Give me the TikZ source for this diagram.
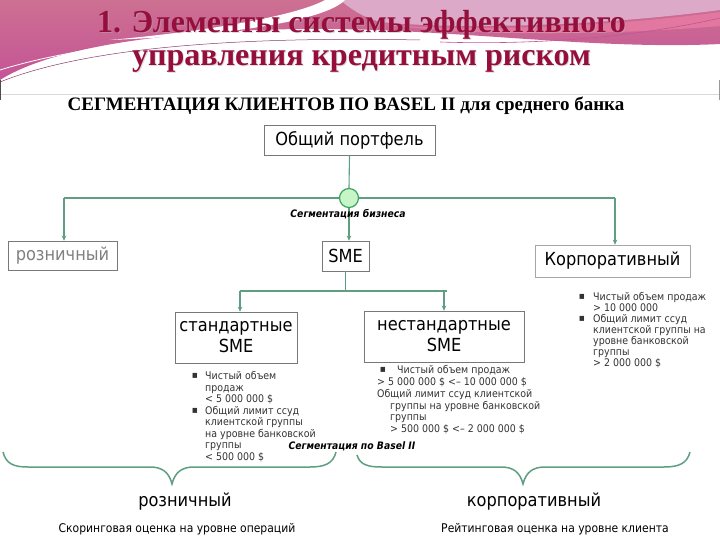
\documentclass[tikz,border=0pt]{standalone}
\usepackage{fontspec}
\setmainfont{Liberation Serif}
\newfontfamily\tf[FakeStretch=0.9]{DejaVu Sans}
\usetikzlibrary{arrows.meta}
\definecolor{titlec}{RGB}{150,15,60}
\definecolor{lnk}{RGB}{95,158,128}
\definecolor{boxc}{RGB}{120,120,120}
\definecolor{pinkA}{RGB}{214,130,162}
\definecolor{pinkT}{RGB}{205,112,146}
\definecolor{pinkL}{RGB}{196,84,150}
\definecolor{mauve}{RGB}{220,170,200}
\definecolor{pinkD}{RGB}{226,120,160}
\definecolor{circf}{RGB}{200,245,200}
\definecolor{circd}{RGB}{60,165,95}
\definecolor{graytxt}{RGB}{128,128,128}
\tikzset{
  boxn/.style={draw=boxc, line width=0.6pt, inner sep=0pt, align=center, font=\tf\fontsize{18}{21}\selectfont},
  lnkline/.style={draw=lnk, line width=1.1pt},
  lnkarr/.style={draw=lnk, line width=1.1pt, -{Stealth[length=5pt,width=4.5pt]}},
  small/.style={inner sep=0pt, anchor=base west, font=\tf\fontsize{10.5}{11}\selectfont, text=black!80},
  bul/.style={inner sep=0pt, anchor=base, font=\tf\fontsize{10}{10}\selectfont, text=black!80},
  segl/.style={inner sep=0pt, font=\tf\bfseries\itshape\fontsize{10.3}{11}\selectfont},
  bracel/.style={draw=lnk, line width=1.5pt},
  ttl/.style={inner sep=0pt, anchor=base, font=\bfseries\fontsize{32}{34}\selectfont}
}
\begin{document}
\begin{tikzpicture}[x=1pt,y=-1pt]
\useasboundingbox (0,0) rectangle (720,540);
\fill[white] (0,0) rectangle (720,540);
% header
\shade[top color=pinkT, bottom color=pinkL] (0,0) -- (720,0) -- (720,44) .. controls (600,50) and (460,30) .. (330,29) .. controls (200,28) and (60,42) .. (0,80) -- cycle;
\fill[mauve] (340,0) -- (720,0) -- (720,10) .. controls (600,26) and (460,30) .. (380,22) .. controls (360,16) and (350,8) .. (340,0) -- cycle;
\fill[pinkD] (720,12) .. controls (600,28) and (460,32) .. (380,24) .. controls (470,36) and (600,36) .. (720,26) -- cycle;
\fill[white] (110,40) .. controls (220,30) and (300,14) .. (325,0) -- (345,0) .. controls (330,16) and (260,34) .. (110,40) -- cycle;
\draw[pinkL!70!black, line width=0.5pt] (0,82) .. controls (80,50) and (220,36) .. (420,40);
\draw[white, line width=0.8pt] (0,70) .. controls (90,42) and (220,32) .. (380,34);
\draw[pinkL, line width=0.6pt] (440,42) .. controls (560,46) and (660,32) .. (720,18);
\draw[black!15, line width=0.8pt] (0,94) -- (720,94);
\draw[black!70, line width=1pt] (0.5,80) -- (0.5,100);
\draw[black!40, line width=1pt] (719.5,80) -- (719.5,100);
% title
\node[ttl, text=black!30, opacity=0.45] (t1s) at (362.5,33.5) {1. Элементы системы эффективного};
\node[ttl, text=titlec] (t1) at (361.5,32.5) {1. Элементы системы эффективного};
\node[ttl, text=black!30, opacity=0.45] (t2s) at (362.5,66.5) {управления кредитным риском};
\node[ttl, text=titlec] (t2) at (361.5,65.5) {управления кредитным риском};
\node[inner sep=0pt, anchor=base, font=\bfseries\fontsize{19}{20}\selectfont] (sub) at (346,111) {СЕГМЕНТАЦИЯ КЛИЕНТОВ ПО BASEL II для среднего банка};
% boxes
\node[boxn, minimum width=171pt, minimum height=30pt] (p) at (349.5,140) {Общий портфель};
\node[boxn, minimum width=109pt, minimum height=29pt, text=graytxt] (r) at (62.5,255.5) {розничный};
\node[boxn, minimum width=47pt, minimum height=30pt] (s) at (345.5,256) {SME};
\node[boxn, draw=black!35, minimum width=155pt, minimum height=32pt] (k) at (612.5,261) {Корпоративный};
\node[boxn, minimum width=122pt, minimum height=51pt] (st) at (236,337.5) {стандартные\\SME};
\node[boxn, minimum width=160pt, minimum height=51pt] (ns) at (444,336.5) {нестандартные\\SME};
\node[circle, draw=circd, fill=circf, line width=1.2pt, minimum size=19pt, inner sep=0pt] (c) at (349,198) {};
% connectors
\coordinate (jl) at (64,198);
\coordinate (jr) at (615,198);
\draw[lnkline] (p.south) -- (c.north);
\draw[lnkline] (c.west) -- (jl);
\draw[lnkline] (c.east) -- (jr);
\draw[lnkarr] (jl) -- (jl |- r.north);
\draw[lnkarr] (jr) -- (jr |- k.north);
\draw[lnkarr] (c.south) -- (c.south |- s.north);
\coordinate (bl) at (240,291);
\coordinate (bn) at (444,291);
\coordinate (br) at (447,291);
\draw[lnkline] (s.south) -- (s.south |- bl);
\draw[lnkline] (bl) -- (br);
\draw[lnkarr] (bl) -- (bl |- st.north);
\draw[lnkarr] (bn) -- (ns.north);
\node[segl] (seg1) at (348,214) {Сегментация бизнеса};
% standard list
\node[bul] (b1) at (195,378) {▪};
\node[bul] (b2) at (195,413) {▪};
\node[small] (sa1) at (205,379) {Чистый объем};
\node[small] (sa2) at (205,391) {продаж};
\node[small] (sa3) at (205,402) {< 5 000 000 \$};
\node[small] (sa4) at (205,414) {Общий лимит ссуд};
\node[small] (sa5) at (205,425) {клиентской группы};
\node[small] (sa6) at (205,437) {на уровне банковской};
\node[small] (sa7) at (205,448) {группы};
\node[small] (sa8) at (205,460) {< 500 000 \$};
% non-standard list
\node[bul] (b3) at (383,372) {▪};
\node[small] (na1) at (397,373) {Чистый объем продаж};
\node[small] (na2) at (377,385) {> 5 000 000 \$ <– 10 000 000 \$};
\node[small] (na3) at (377,397) {Общий лимит ссуд клиентской};
\node[small] (na4) at (390,409) {группы на уровне банковской};
\node[small] (na5) at (390,420) {группы};
\node[small] (na6) at (390,432) {> 500 000 \$ <– 2 000 000 \$};
% corporate list
\node[bul] (b4) at (582,299) {▪};
\node[bul] (b5) at (582,321) {▪};
\node[small] (ka1) at (593,300) {Чистый объем продаж};
\node[small] (ka2) at (593,311) {> 10 000 000};
\node[small] (ka3) at (593,322) {Общий лимит ссуд};
\node[small] (ka4) at (593,333) {клиентской группы на};
\node[small] (ka5) at (593,344) {уровне банковской};
\node[small] (ka6) at (593,355) {группы};
\node[small] (ka7) at (593,366) {> 2 000 000 \$};
\node[segl] (seg2) at (352,446) {Сегментация по Basel II};
% braces
\draw[bracel] (3,452) .. controls (6,464) and (14,467) .. (28,467) -- (150,467) .. controls (162,467) and (169,472) .. (172,484) .. controls (175,472) and (182,467) .. (194,467) -- (310,467) .. controls (324,467) and (333,464) .. (336,452);
\draw[bracel] (357,455) .. controls (360,465) and (368,467) .. (382,467) -- (501,467) .. controls (513,467) and (520,472) .. (523,484) .. controls (526,472) and (533,467) .. (545,467) -- (664,467) .. controls (678,467) and (687,464) .. (690,452);
% bottom labels
\node[inner sep=0pt, font=\tf\fontsize{18}{20}\selectfont] (rb) at (185,502) {розничный};
\node[inner sep=0pt, font=\tf\fontsize{18}{20}\selectfont] (kb) at (534,502) {корпоративный};
\node[inner sep=0pt, font=\tf\fontsize{12}{14}\selectfont] (rd) at (177,529) {Скоринговая оценка на уровне операций};
\node[inner sep=0pt, font=\tf\fontsize{12}{14}\selectfont] (kd) at (555,529) {Рейтинговая оценка на уровне клиента};
\end{tikzpicture}
\end{document}
